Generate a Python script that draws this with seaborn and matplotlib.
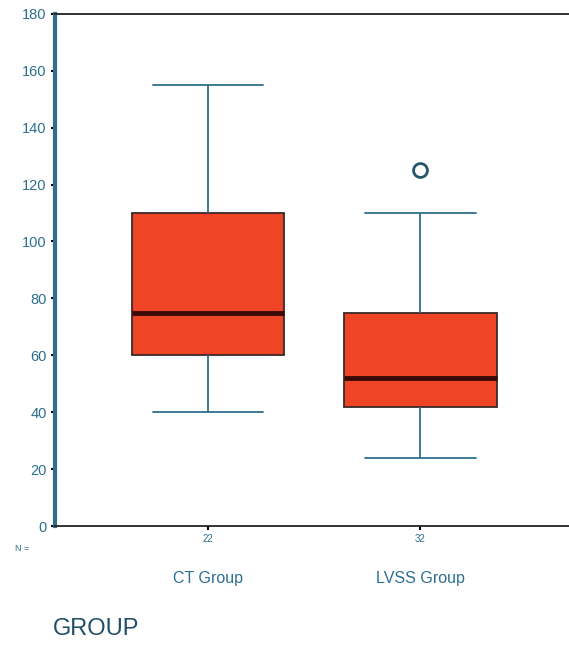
import pandas as pd
import matplotlib.pyplot as plt
import seaborn as sns

# values (five-number points + outlier)
groups = ["CT Group", "LVSS Group"]
counts = [22, 32]
ct_values = [40, 60, 75, 110, 155]
lvss_values = [24, 42, 42, 52, 52, 75, 75, 110, 125]
y_ticks = [0, 20, 40, 60, 80, 100, 120, 140, 160, 180]

df = pd.DataFrame({
    "GROUP": [groups[0]] * len(ct_values) + [groups[1]] * len(lvss_values),
    "value": ct_values + lvss_values,
})

sns.set_theme(style="ticks")
plt.rcParams["font.family"] = ["Liberation Sans", "DejaVu Sans"]

txt = "#2b6f8f"
edge = "#2d6f8c"

fig = plt.figure(figsize=(5.69, 6.52), dpi=100)
ax = fig.add_axes([0.097, 0.193, 0.903, 0.786])

sns.boxplot(data=df, x="GROUP", y="value", order=groups, ax=ax,
            color="#ef4526", saturation=1, width=0.72, linewidth=1.3,
            capwidths=0.52,
            boxprops=dict(edgecolor="#3b2a2a"),
            whiskerprops=dict(color=edge),
            capprops=dict(color=edge),
            medianprops=dict(color="#3a0a05", linewidth=3.5),
            flierprops=dict(marker="o", markersize=10, markerfacecolor="white",
                            markeredgecolor="#24566d", markeredgewidth=2))

ax.set_ylim(0, 180)
ax.set_xlim(-0.72, 1.70)
ax.set_yticks(y_ticks)
ax.set_yticklabels([str(t) for t in y_ticks], color=txt, fontsize=10.5)
ax.set_xticks(range(len(groups)))
ax.set_xticklabels([str(c) for c in counts], color=txt, fontsize=7)
ax.tick_params(axis="both", length=3, width=1.5, color="black", pad=3)
ax.set_ylabel("")
ax.set_xlabel("")

for spine in ["top", "bottom"]:
    ax.spines[spine].set_color("#222222")
    ax.spines[spine].set_linewidth(1.3)
ax.spines["left"].set_color("#2f6f8a")
ax.spines["left"].set_linewidth(3)
ax.spines["right"].set_visible(False)

for i, name in enumerate(groups):
    ax.text(i, -0.103, name, transform=ax.get_xaxis_transform(),
            ha="center", va="center", color=txt, fontsize=11.5)

fig.text(0.039, 0.159, "N =", color=txt, fontsize=6.5, ha="center", va="center")
fig.text(0.093, 0.036, "GROUP", color="#1f4f66", fontsize=17,
         ha="left", va="center")

plt.savefig("out.png", dpi=100)
